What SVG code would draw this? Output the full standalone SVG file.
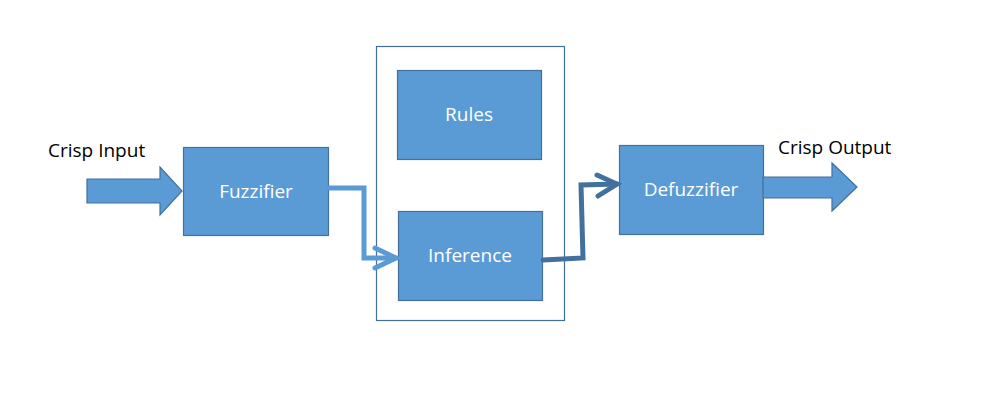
<svg xmlns="http://www.w3.org/2000/svg" width="986" height="410" viewBox="0 0 986 410">
<style>
.box{fill:#5B9BD5;stroke:#41719C;stroke-width:1.2}
.lbl{font-family:"Open Sans","Liberation Sans",sans-serif;font-size:19px;fill:#fff;text-anchor:middle}
.cap{font-family:"Open Sans","Liberation Sans",sans-serif;font-size:19px;fill:#000}
.conn{fill:none;stroke-width:5;stroke-linejoin:miter;stroke-linecap:round}
</style>
<rect width="986" height="410" fill="#fff"/>
<g id="container"><rect x="376.5" y="46.5" width="188" height="274" fill="none" stroke="#41719C" stroke-width="1.2"/></g>
<g id="crisp-input">
<polygon class="box" points="87,179 160,179 160,167 182,191 160,215 160,203 87,203"/>
<text class="cap" x="48" y="157">Crisp Input</text>
</g>
<g id="fuzzifier"><rect class="box" x="183.5" y="147.5" width="145" height="88"/><text class="lbl" x="256" y="198">Fuzzifier</text></g>
<g id="rules"><rect class="box" x="397.5" y="70.5" width="144" height="89"/><text class="lbl" x="469" y="121">Rules</text></g>
<g id="inference"><rect class="box" x="398.5" y="211.5" width="144" height="89"/><text class="lbl" x="470" y="262">Inference</text></g>
<g id="defuzzifier"><rect class="box" x="619.5" y="145.5" width="144" height="89"/><text class="lbl" x="691" y="196">Defuzzifier</text></g>
<g id="crisp-output">
<polygon class="box" points="763,177 832,177 832,163 857,187 832,211 832,198 763,198"/>
<text class="cap" x="778" y="154">Crisp Output</text>
</g>
<g id="connectors">
<path class="conn" stroke="#5B9BD5" d="M329,188 L364,188 L364,258 L396,258"/>
<path class="conn" stroke="#5B9BD5" d="M375,248 L396,258 L375,268"/>
<path class="conn" stroke="#41719C" d="M543,260 L583,258 L581,185 L617,184"/>
<path class="conn" stroke="#41719C" d="M597,175 L617,184 L598,196"/>
</g>
</svg>
